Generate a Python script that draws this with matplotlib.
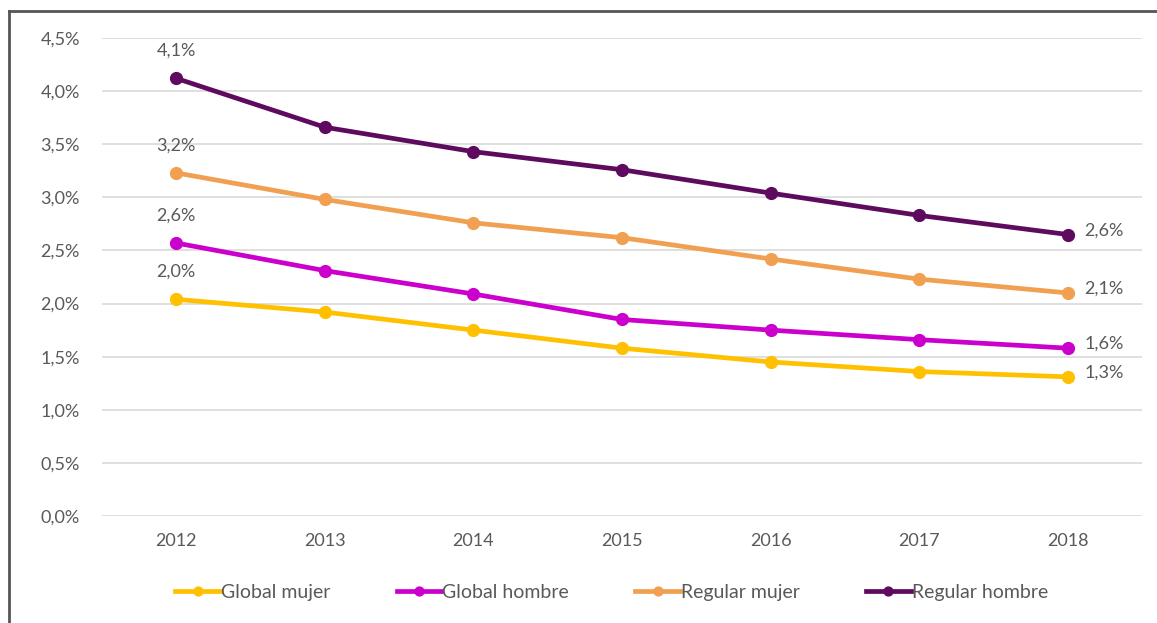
import matplotlib
matplotlib.use("Agg")
import matplotlib.pyplot as plt
from matplotlib.lines import Line2D

# data
years = ["2012", "2013", "2014", "2015", "2016", "2017", "2018"]
global_mujer = [2.04, 1.92, 1.75, 1.58, 1.45, 1.36, 1.31]
global_hombre = [2.57, 2.31, 2.09, 1.85, 1.75, 1.66, 1.58]
regular_mujer = [3.23, 2.98, 2.76, 2.62, 2.42, 2.23, 2.10]
regular_hombre = [4.12, 3.66, 3.43, 3.26, 3.04, 2.83, 2.65]
names = ["Global mujer", "Global hombre", "Regular mujer", "Regular hombre"]
colors = ["#FFC000", "#CC00CC", "#F0A050", "#5E0A5E"]
y_ticks = [0, 0.5, 1.0, 1.5, 2.0, 2.5, 3.0, 3.5, 4.0, 4.5]

plt.rcParams["font.family"] = ["Lato", "DejaVu Sans"]
text_col = "#595959"

W, H = 1157, 623
fig = plt.figure(figsize=(W / 100, H / 100), dpi=100)
ax = fig.add_axes([102 / W, 1 - 516 / H, (1142 - 102) / W, (516 - 38) / H])

x = list(range(len(years)))
series = [global_mujer, global_hombre, regular_mujer, regular_hombre]
for vals, name, c in zip(series, names, colors):
    ax.plot(x, vals, color=c, lw=3.4, marker="o", ms=8.5, label=name, zorder=3)
    first = f"{vals[0]:.1f}%".replace(".", ",")
    last = f"{vals[-1]:.1f}%".replace(".", ",")
    ax.annotate(first, (x[0], vals[0]), xytext=(0, 14), textcoords="offset points",
                ha="center", va="bottom", fontsize=13, color=text_col)
    ax.annotate(last, (x[-1], vals[-1]), xytext=(12, 3), textcoords="offset points",
                ha="left", va="center", fontsize=13, color=text_col)

ax.set_xlim(-0.5, len(years) - 0.5)
ax.set_ylim(0, 4.5)
ax.set_yticks(y_ticks)
ax.set_yticklabels([f"{v:.1f}%".replace(".", ",") for v in y_ticks])
ax.set_xticks(x)
ax.set_xticklabels(years)
ax.grid(axis="y", color="#D9D9D9", lw=1.2)
ax.set_axisbelow(True)
for s in ax.spines.values():
    s.set_visible(False)
ax.tick_params(length=0, labelsize=13, colors=text_col)
ax.tick_params(axis="x", pad=12)
ax.tick_params(axis="y", pad=16)

ax.legend(loc="center", bbox_to_anchor=(0.49, -0.16), ncol=4, frameon=False,
          fontsize=14, labelcolor=text_col, handlelength=2.3, handletextpad=0.05,
          columnspacing=3.4, markerscale=0.75)

# outer frame (top and left edges visible)
fig.add_artist(Line2D([8.5 / W, 1], [1 - 10.5 / H, 1 - 10.5 / H], color="#555555", lw=2))
fig.add_artist(Line2D([8.5 / W, 8.5 / W], [0, 1 - 10.5 / H], color="#555555", lw=2))

fig.savefig("out.png", dpi=100)
